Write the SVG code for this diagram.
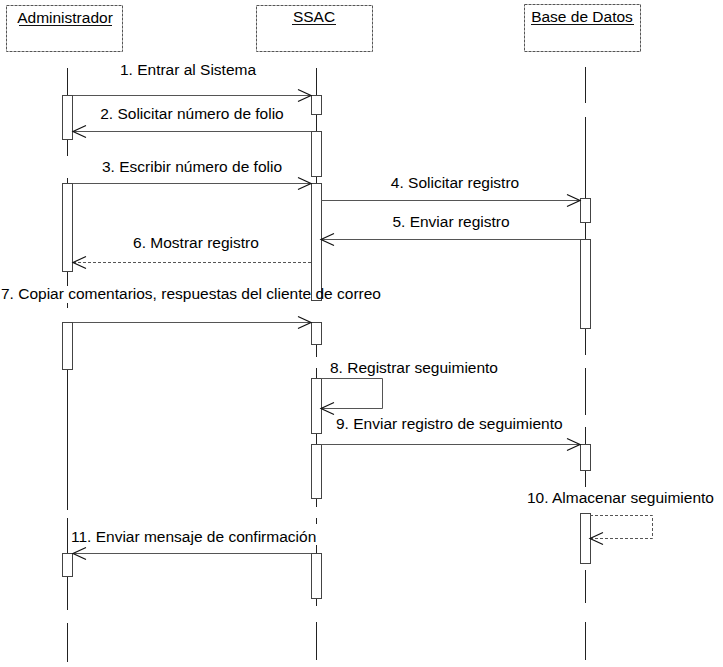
<svg xmlns="http://www.w3.org/2000/svg" width="723" height="667" viewBox="0 0 723 667">
  <style>
    .hdr { fill: #ffffff; stroke: #555; stroke-width: 1; stroke-dasharray: 3 1; }
    .hdr-t { font-family: "Liberation Sans", Arial, sans-serif; font-size: 15.5px; fill: #000; text-anchor: middle; }
    .ul { stroke: #111; stroke-width: 1.2; }
    .life { fill: none; stroke: #222; stroke-width: 1; }
    .act { fill: #ffffff; stroke: #444; stroke-width: 1; }
    .msg { fill: none; stroke: #555; stroke-width: 1; marker-end: url(#ah); }
    .ret { fill: none; stroke: #555; stroke-width: 1; stroke-dasharray: 3 2; marker-end: url(#ah); }
    .lbl { font-family: "Liberation Sans", Arial, sans-serif; font-size: 15.5px; fill: #000; }
  </style>
  <defs>
    <marker id="ah" viewBox="0 0 13 12" refX="13" refY="6" markerWidth="13" markerHeight="12" markerUnits="userSpaceOnUse" orient="auto" overflow="visible">
      <path d="M0,0 L13,6 L0,12" fill="none" stroke="#111" stroke-width="1.2"/>
    </marker>
  </defs>
  <rect width="723" height="667" fill="#ffffff"/>

  <g id="node-administrador">
    <rect class="hdr" x="6.5" y="5.5" width="116" height="46"/>
    <text class="hdr-t" x="65" y="23">Administrador</text>
    <line class="ul" x1="19" y1="25.5" x2="112" y2="25.5"/>
    <path class="life" d="M67.5,68 V95 M67.5,140 V156 M67.5,178 V183 M67.5,272 V286 M67.5,303 V308 M67.5,370 V510 M67.5,518 V553 M67.5,577 V610 M67.5,623 V662"/>
    <rect class="act" x="62.5" y="95.5" width="10" height="44"/>
    <rect class="act" x="62.5" y="183.5" width="10" height="88"/>
    <rect class="act" x="62.5" y="322.5" width="10" height="47"/>
    <rect class="act" x="62.5" y="553.5" width="10" height="23"/>
  </g>

  <g id="node-ssac">
    <rect class="hdr" x="256.5" y="5.5" width="116" height="46"/>
    <text class="hdr-t" x="314" y="22">SSAC</text>
    <line class="ul" x1="292" y1="24.5" x2="336" y2="24.5"/>
    <path class="life" d="M316.5,68 V95 M316.5,114 V131 M316.5,177 V183 M316.5,344 V357 M316.5,368 V378 M316.5,433 V444 M316.5,498 V507 M316.5,518 V524 M316.5,545 V553 M316.5,598 V606 M316.5,622 V660"/>
    <rect class="act" x="311.5" y="95.5" width="10" height="19"/>
    <rect class="act" x="311.5" y="131.5" width="10" height="45"/>
    <rect class="act" x="311.5" y="183.5" width="10" height="117"/>
    <rect class="act" x="311.5" y="322.5" width="10" height="22"/>
    <rect class="act" x="311.5" y="378.5" width="10" height="55"/>
    <rect class="act" x="311.5" y="444.5" width="10" height="54"/>
    <rect class="act" x="311.5" y="553.5" width="10" height="45"/>
  </g>

  <g id="node-base-de-datos">
    <rect class="hdr" x="524.5" y="4.5" width="116" height="47"/>
    <text class="hdr-t" x="582" y="22">Base de Datos</text>
    <line class="ul" x1="531" y1="24.5" x2="634" y2="24.5"/>
    <path class="life" d="M585.5,67 V103 M585.5,117 V198 M585.5,222 V239 M585.5,328 V355 M585.5,368 V415 M585.5,427 V444 M585.5,470 V487 M585.5,570 V603 M585.5,622 V660"/>
    <rect class="act" x="580.5" y="198.5" width="10" height="24"/>
    <rect class="act" x="580.5" y="239.5" width="10" height="89"/>
    <rect class="act" x="580.5" y="444.5" width="10" height="26"/>
    <rect class="act" x="580.5" y="513.5" width="10" height="50"/>
  </g>

  <g id="connectors">
    <line class="msg" x1="73" y1="95.5" x2="311" y2="95.5"/>
    <text class="lbl" x="188" y="75" text-anchor="middle">1. Entrar al Sistema</text>

    <line class="msg" x1="311" y1="131.5" x2="73" y2="131.5"/>
    <text class="lbl" x="192" y="119" text-anchor="middle">2. Solicitar número de folio</text>

    <line class="msg" x1="73" y1="183.5" x2="311" y2="183.5"/>
    <text class="lbl" x="192" y="172" text-anchor="middle">3. Escribir número de folio</text>

    <line class="msg" x1="321" y1="200.5" x2="580" y2="200.5"/>
    <text class="lbl" x="455" y="188" text-anchor="middle">4. Solicitar registro</text>

    <line class="msg" x1="580" y1="239.5" x2="321" y2="239.5"/>
    <text class="lbl" x="451" y="227" text-anchor="middle">5. Enviar registro</text>

    <line class="ret" x1="311" y1="262.5" x2="73" y2="262.5"/>
    <text class="lbl" x="196" y="248" text-anchor="middle">6. Mostrar registro</text>

    <line class="msg" x1="73" y1="322.5" x2="311" y2="322.5"/>
    <text class="lbl" x="1" y="299">7. Copiar comentarios, respuestas del cliente de correo</text>

    <path class="msg" d="M321,378.5 H382.5 V408.5 H321"/>
    <text class="lbl" x="330" y="373">8. Registrar seguimiento</text>

    <line class="msg" x1="321" y1="444.5" x2="580" y2="444.5"/>
    <text class="lbl" x="336" y="429">9. Enviar registro de seguimiento</text>

    <path class="ret" d="M590,515.5 H652.5 V538.5 H590"/>
    <text class="lbl" x="527" y="503">10. Almacenar seguimiento</text>

    <line class="msg" x1="311" y1="553.5" x2="73" y2="553.5"/>
    <text class="lbl" x="71" y="542">11. Enviar mensaje de confirmación</text>
  </g>
</svg>
